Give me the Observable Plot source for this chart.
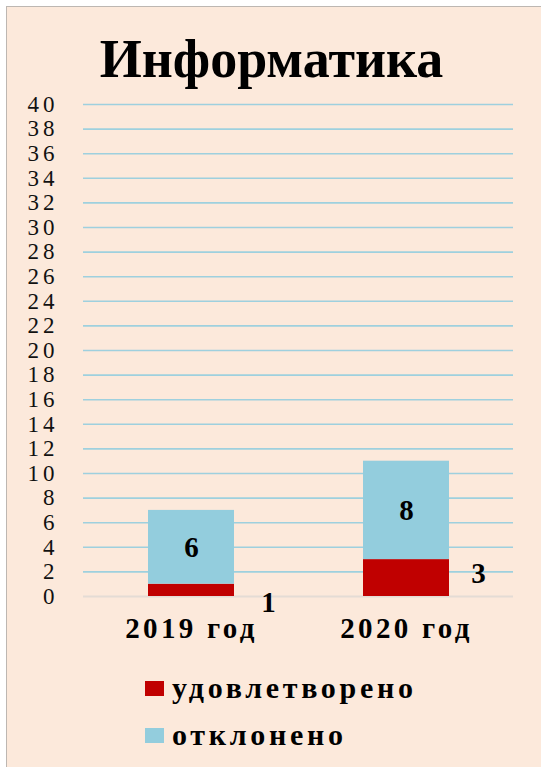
<!DOCTYPE html>
<html>
<head>
<meta charset="utf-8">
<script src="https://cdn.jsdelivr.net/npm/d3@7"></script>
<script src="https://cdn.jsdelivr.net/npm/@observablehq/plot@0.6"></script>
<style>
  html, body { margin: 0; padding: 0; background: #ffffff; }
  #frame {
    position: absolute; left: 6px; top: 6px; width: 535px; height: 761px;
    background: #FCE9DB; border-left: 1px solid #BDB7B2; border-top: 1px solid #BDB7B2;
    font-family: "Liberation Serif", Tinos, "Times New Roman", serif;
  }
  #chart svg text {
    font-family: "Liberation Serif", Tinos, "Times New Roman", serif;
  }
  #chart g[aria-label="y-axis tick label"] text { letter-spacing: 4px; }
  #chart g[aria-label="x-axis tick label"] text { letter-spacing: 3.3px; }
  #title {
    position: absolute; left: -6px; top: 22px; width: 541px; text-align: center;
    font-size: 54px; font-weight: bold; color: #000; line-height: 60px;
  }
  #chart { position: absolute; left: -7px; top: 73px; }
  .legend-row { position: absolute; left: 138px; display: flex; align-items: center; }
  .legend-row .sw { width: 19px; height: 15px; margin-right: 8px; }
  .legend-row span { font-size: 30px; font-weight: bold; color: #000; line-height: 34px; letter-spacing: 3.7px; }
</style>
</head>
<body>
<div id="frame">
  <div id="title">Информатика</div>
  <div id="chart"></div>
  <div id="legend"></div>
</div>
<script>
const years = ["2019 год", "2020 год"];
const statuses = ["удовлетворено", "отклонено"];
const satisfied = [1, 3];
const rejected = [6, 8];
const yTicks = d3.range(0, 41, 2);
const colors = ["#C00000", "#93CDDD"];

const data = [];
years.forEach((y, i) => {
  data.push({year: y, status: statuses[0], value: satisfied[i]});
  data.push({year: y, status: statuses[1], value: rejected[i]});
});

const labelStyle = {fontSize: 29, fontWeight: "bold", fill: "#000"};

const chart = Plot.plot({
  width: 541,
  height: 590,
  marginTop: 24,
  marginBottom: 74,
  marginLeft: 83,
  marginRight: 28,
  style: {background: "transparent", overflow: "visible"},
  x: {domain: years, paddingInner: 0.6, paddingOuter: 0.3, label: null},
  y: {domain: [0, 40], label: null},
  color: {domain: statuses, range: colors},
  marks: [
    Plot.ruleY(yTicks.filter(d => d > 0), {stroke: "#9ED0DE", strokeWidth: 1.6}),
    Plot.ruleY([0], {stroke: "#E4DCD5", strokeWidth: 2}),
    Plot.barY(data, {x: "year", y: "value", fill: "status", order: statuses}),
    Plot.text(data, Plot.stackY({
      x: "year", y: "value", z: "status", order: statuses,
      text: d => d.status === statuses[1] ? d.value : null, ...labelStyle
    })),
    Plot.text(data, Plot.stackY({
      x: "year", y: "value", z: "status", order: statuses,
      text: d => d.status === statuses[0] && d.year === years[0] ? d.value : null,
      dx: 77, dy: 12, ...labelStyle
    })),
    Plot.text(data, Plot.stackY({
      x: "year", y: "value", z: "status", order: statuses,
      text: d => d.status === statuses[0] && d.year === years[1] ? d.value : null,
      dx: 72, dy: -4, ...labelStyle
    })),
    Plot.axisY({ticks: yTicks, tickSize: 0, tickPadding: 25, fontSize: 23, fill: "#111", tickFormat: d => String(d)}),
    Plot.axisX({tickSize: 0, tickPadding: 21, fontSize: 29, fontWeight: "bold", fill: "#000"})
  ]
});
document.getElementById("chart").appendChild(chart);

const legend = document.getElementById("legend");
statuses.forEach((s, i) => {
  const row = document.createElement("div");
  row.className = "legend-row";
  row.style.top = (i === 0 ? 664 : 711) + "px";
  const sw = document.createElement("div");
  sw.className = "sw";
  sw.style.background = colors[i];
  const label = document.createElement("span");
  label.textContent = s;
  row.appendChild(sw);
  row.appendChild(label);
  legend.appendChild(row);
});
</script>
</body>
</html>
